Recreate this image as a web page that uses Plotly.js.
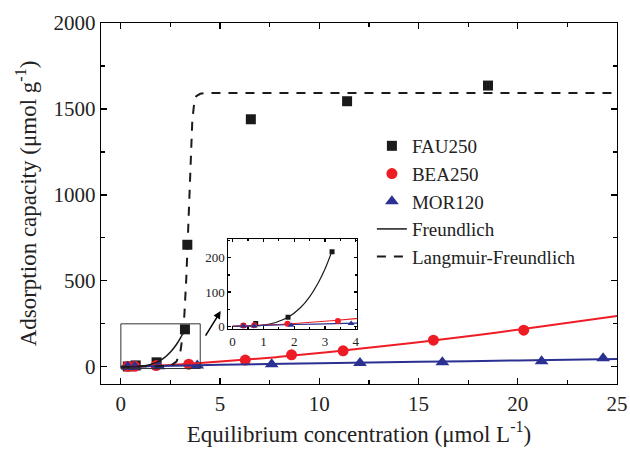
<!DOCTYPE html>
<html>
<head>
<meta charset="utf-8">
<script src="https://cdn.plot.ly/plotly-3.0.1.min.js"></script>
<style>html,body{margin:0;padding:0;background:#fff;}#chart{width:630px;height:449px;}</style>
</head>
<body>
<div id="chart"></div>
<script>
// Measured data
var fauX = [0.35, 0.75, 1.8, 3.23, 3.35, 6.55, 11.4, 18.5];
var fauY = [2, 8, 26, 218, 710, 1440, 1545, 1636];
var beaX = [0.35, 0.7, 1.78, 3.42, 6.27, 8.6, 11.2, 15.75, 20.3];
var beaY = [2, 3, 7, 15, 39, 70, 93, 155, 213];
var morX = [0.35, 0.7, 1.9, 3.85, 7.6, 12.05, 16.2, 21.2, 24.3];
var morY = [1, 1, 3, 8, 15, 22, 27, 33, 50];

// Fitted curves
var fauFrX = [0, 0.3, 0.6, 1.0, 1.4, 1.8, 2.2, 2.5, 2.8, 3.0, 3.23];
var fauFrY = [0, 0.4, 0.5, 3, 11, 26, 54, 86, 130, 167, 220];
var beaFrX = [0, 1, 2, 4, 6, 8, 10, 12, 15, 18, 21, 25];
var beaFrY = [0, 3, 8, 22, 39, 58, 80, 105, 143, 185, 231, 295];
var morFrX = [0, 2, 4, 5, 10, 15, 20, 25];
var morFrY = [0, 5, 9, 12, 21, 29, 37, 45];
var lfX = [0, 2.5, 2.8, 3.0, 3.1, 3.2, 3.3, 3.4, 3.5, 3.6, 3.7, 3.8, 4.0, 4.3, 25];
var lfY = [0, 5, 30, 87, 170, 300, 520, 800, 1150, 1430, 1540, 1575, 1588, 1593, 1593];

var FONT = '"Liberation Serif", "Times New Roman", serif';
var RED = '#ee1c25', BLUE = '#2b3192', BLACK = '#1a1a1a';

var traces = [
  {x: fauX, y: fauY, mode: 'markers', name: 'FAU250', marker: {symbol: 'square', size: 10, color: BLACK}, xaxis: 'x', yaxis: 'y'},
  {x: beaX, y: beaY, mode: 'markers', name: 'BEA250', marker: {symbol: 'circle', size: 11, color: RED}, xaxis: 'x', yaxis: 'y'},
  {x: morX, y: morY, mode: 'markers', name: 'MOR120', marker: {symbol: 'triangle-up', size: 12, color: BLUE}, xaxis: 'x', yaxis: 'y'},
  {x: beaFrX, y: beaFrY, mode: 'lines', showlegend: false, line: {color: RED, width: 2, shape: 'spline'}, xaxis: 'x', yaxis: 'y'},
  {x: morFrX, y: morFrY, mode: 'lines', showlegend: false, line: {color: BLUE, width: 2, shape: 'spline'}, xaxis: 'x', yaxis: 'y'},
  {x: fauFrX, y: fauFrY, mode: 'lines', name: 'Freundlich', line: {color: BLACK, width: 1.5, shape: 'spline'}, xaxis: 'x', yaxis: 'y'},
  {x: lfX, y: lfY, mode: 'lines', name: 'Langmuir-Freundlich', line: {color: BLACK, width: 2, dash: '9px,8px'}, xaxis: 'x', yaxis: 'y'},
  // inset
  {x: fauFrX, y: fauFrY, mode: 'lines', showlegend: false, line: {color: BLACK, width: 1.2, shape: 'spline'}, xaxis: 'x2', yaxis: 'y2'},
  {x: beaFrX, y: beaFrY, mode: 'lines', showlegend: false, line: {color: RED, width: 1.2, shape: 'spline'}, xaxis: 'x2', yaxis: 'y2'},
  {x: morFrX, y: morFrY, mode: 'lines', showlegend: false, line: {color: BLUE, width: 1.2, shape: 'spline'}, xaxis: 'x2', yaxis: 'y2'},
  {x: fauX, y: fauY, mode: 'markers', showlegend: false, marker: {symbol: 'square', size: 5, color: BLACK}, xaxis: 'x2', yaxis: 'y2'},
  {x: beaX, y: beaY, mode: 'markers', showlegend: false, marker: {symbol: 'circle', size: 6, color: RED}, xaxis: 'x2', yaxis: 'y2'},
  {x: morX, y: morY, mode: 'markers', showlegend: false, marker: {symbol: 'triangle-up', size: 6, color: BLUE}, xaxis: 'x2', yaxis: 'y2'}
];

var axCommon = {
  showgrid: false, zeroline: false, showline: true, linecolor: '#000', linewidth: 1.3,
  mirror: 'ticks', ticks: 'inside', ticklen: 6, tickwidth: 1.2, tickcolor: '#000',
  tickfont: {family: FONT, size: 21, color: '#222'}
};

var layout = {
  width: 630, height: 449,
  margin: {l: 101, r: 13, t: 23, b: 65},
  paper_bgcolor: '#fff', plot_bgcolor: '#fff',
  font: {family: FONT, color: '#222'},
  showlegend: true,
  legend: {x: 0.525, y: 0.712, xanchor: 'left', yanchor: 'top', bgcolor: 'rgba(0,0,0,0)',
           font: {family: FONT, size: 19, color: '#222'}, tracegroupgap: 0},
  xaxis: Object.assign({}, axCommon, {
    range: [-1, 25], tickvals: [0, 5, 10, 15, 20, 25],
    minor: {dtick: 2.5, tick0: 0, ticks: 'inside', ticklen: 4, tickcolor: '#000'},
    title: {text: 'Equilibrium concentration (μmol L<sup>-1</sup>)', font: {family: FONT, size: 23, color: '#222'}, standoff: 11}
  }),
  yaxis: Object.assign({}, axCommon, {
    range: [-100, 2000], tickvals: [0, 500, 1000, 1500, 2000],
    minor: {dtick: 250, tick0: 0, ticks: 'inside', ticklen: 4, tickcolor: '#000'},
    title: {text: 'Adsorption capacity (μmol g<sup>-1</sup>)', font: {family: FONT, size: 23, color: '#222'}, standoff: 10}
  }),
  xaxis2: Object.assign({}, axCommon, {
    domain: [0.2467, 0.4967], anchor: 'y2', range: [-0.14, 4.05], tickvals: [0, 1, 2, 3, 4],
    linewidth: 1, ticklen: 3, tickfont: {family: FONT, size: 13, color: '#222'},
    minor: {dtick: 0.5, tick0: 0, ticks: 'inside', ticklen: 2, tickcolor: '#000'}
  }),
  yaxis2: Object.assign({}, axCommon, {
    domain: [0.1515, 0.4008], anchor: 'x2', range: [-9, 254], tickvals: [0, 100, 200],
    linewidth: 1, ticklen: 3, tickfont: {family: FONT, size: 13, color: '#222'},
    minor: {dtick: 50, tick0: 0, ticks: 'inside', ticklen: 2, tickcolor: '#000'}
  }),
  shapes: [
    {type: 'rect', xref: 'x', yref: 'y', x0: 0, x1: 4, y0: -10, y1: 250, line: {color: '#333', width: 1}}
  ],
  annotations: [
    {xref: 'x', yref: 'y', x: 5.03, y: 324, ax: -16, ay: 26, text: '', showarrow: true,
     arrowhead: 2, arrowsize: 1, arrowwidth: 1.5, arrowcolor: '#000'}
  ]
};

Plotly.newPlot('chart', traces, layout, {displayModeBar: false, staticPlot: true});
</script>
</body>
</html>
